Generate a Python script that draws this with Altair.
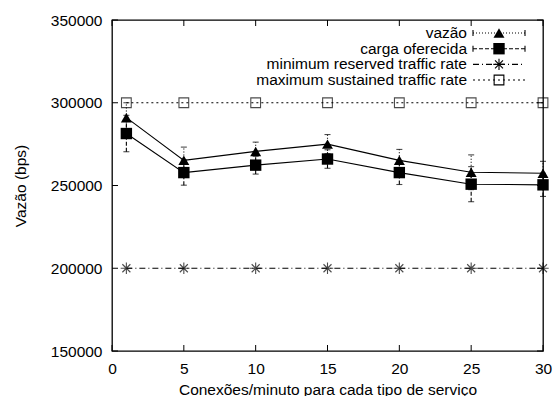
import altair as alt
import pandas as pd

# ---- data ----
x_vals = [1, 5, 10, 15, 20, 25, 30]
vazao = [291000, 265200, 270600, 275000, 265200, 258000, 257400]
vazao_err = [9000, 8000, 5600, 5800, 6600, 10500, 7200]
carga = [281400, 257800, 262300, 266000, 257800, 250800, 250400]
carga_err = [11000, 7600, 5400, 5600, 7200, 10600, 7000]
min_rate = [200000, 200000, 200000, 200000, 200000, 200000, 200000]
max_rate = [300000, 300000, 300000, 300000, 300000, 300000, 300000]

x_ticks = [0, 5, 10, 15, 20, 25, 30]
y_ticks = [150000, 200000, 250000, 300000, 350000]

legend_labels = ["vazão", "carga oferecida", "minimum reserved traffic rate",
                 "maximum sustained traffic rate"]

x_title = "Conexões/minuto para cada tipo de serviço"
y_title = "Vazão (bps)"

# ---- layout / style ----
W, H = 431, 331
FONT = "Liberation Sans"
FS = 15.5
TICK = 6
LW = 1.1

df = pd.DataFrame({
    "x": x_vals, "vazao": vazao, "verr": vazao_err,
    "carga": carga, "cerr": carga_err, "minr": min_rate, "maxr": max_rate,
})
df["v_lo"] = df["vazao"] - df["verr"]
df["v_hi"] = df["vazao"] + df["verr"]
df["c_lo"] = df["carga"] - df["cerr"]
df["c_hi"] = df["carga"] + df["cerr"]

xscale = alt.Scale(domain=[0, 30], nice=False, zero=False)
yscale = alt.Scale(domain=[150000, 350000], nice=False, zero=False)

xaxis = alt.Axis(values=x_ticks, ticks=False, domain=False, grid=False,
                 labelFont=FONT, labelFontSize=FS, labelColor="black",
                 labelPadding=10, labelFlush=False,
                 title=x_title, titleFont=FONT, titleFontSize=FS,
                 titleFontWeight="normal", titleColor="black",
                 titleY=43, titleBaseline="alphabetic")
yaxis = alt.Axis(values=y_ticks, ticks=False, domain=False, grid=False,
                 format="d", labelFont=FONT, labelFontSize=FS,
                 labelColor="black", labelPadding=10, labelFlush=False,
                 title=y_title, titleFont=FONT, titleFontSize=FS,
                 titleFontWeight="normal", titleColor="black",
                 titleX=-92, titleY=H / 2, titleAlign="center",
                 titleBaseline="middle", titleAngle=-90)


def X(f):
    return alt.X(f, type="quantitative", scale=xscale, axis=xaxis, title=x_title)


def Y(f):
    return alt.Y(f, type="quantitative", scale=yscale, axis=yaxis, title=y_title)


base = alt.Chart(df)

cap = "M-1,0L1,0"
star = "M-1,0L1,0M0,-1L0,1M-0.7,-0.7L0.7,0.7M-0.7,0.7L0.7,-0.7"
sq = "M-1,-1L1,-1L1,1L-1,1Z"

layers = []

# reference lines
layers.append(base.mark_line(color="black", strokeWidth=LW, strokeDash=[6, 3, 1, 3]).encode(x=X("x"), y=Y("minr")))
layers.append(base.mark_point(shape=star, size=130, filled=False, color="black", strokeWidth=LW).encode(x=X("x"), y=Y("minr")))
layers.append(base.mark_line(color="black", strokeWidth=LW, strokeDash=[2, 3]).encode(x=X("x"), y=Y("maxr")))
layers.append(base.mark_point(shape=sq, size=95, filled=False, color="black", strokeWidth=LW).encode(x=X("x"), y=Y("maxr")))

# error bars
layers.append(base.mark_rule(color="black", strokeWidth=LW, strokeDash=[1, 2]).encode(x=X("x"), y=Y("v_lo"), y2="v_hi"))
layers.append(base.mark_point(shape=cap, size=36, filled=False, color="black", strokeWidth=LW).encode(x=X("x"), y=Y("v_lo")))
layers.append(base.mark_point(shape=cap, size=36, filled=False, color="black", strokeWidth=LW).encode(x=X("x"), y=Y("v_hi")))
layers.append(base.mark_rule(color="black", strokeWidth=LW, strokeDash=[4, 2]).encode(x=X("x"), y=Y("c_lo"), y2="c_hi"))
layers.append(base.mark_point(shape=cap, size=36, filled=False, color="black", strokeWidth=LW).encode(x=X("x"), y=Y("c_lo")))
layers.append(base.mark_point(shape=cap, size=36, filled=False, color="black", strokeWidth=LW).encode(x=X("x"), y=Y("c_hi")))

# series lines + markers
layers.append(base.mark_line(color="black", strokeWidth=LW).encode(x=X("x"), y=Y("vazao")))
layers.append(base.mark_point(shape="triangle-up", size=120, filled=True, color="black", opacity=1).encode(x=X("x"), y=Y("vazao")))
layers.append(base.mark_line(color="black", strokeWidth=LW).encode(x=X("x"), y=Y("carga")))
layers.append(base.mark_point(shape="square", size=130, filled=True, color="black", opacity=1).encode(x=X("x"), y=Y("carga")))

# inward ticks (gnuplot style, mirrored)
xt = alt.Chart(pd.DataFrame({"t": x_ticks}))
yt = alt.Chart(pd.DataFrame({"t": y_ticks}))
layers.append(xt.mark_rule(color="black", strokeWidth=1).encode(x=X("t"), y=alt.value(H), y2=alt.value(H - TICK)))
layers.append(xt.mark_rule(color="black", strokeWidth=1).encode(x=X("t"), y=alt.value(0), y2=alt.value(TICK)))
layers.append(yt.mark_rule(color="black", strokeWidth=1).encode(y=Y("t"), x=alt.value(0), x2=alt.value(TICK)))
layers.append(yt.mark_rule(color="black", strokeWidth=1).encode(y=Y("t"), x=alt.value(W), x2=alt.value(W - TICK)))

# legend (gnuplot style: label, then sample)
TX, L0, L1, MX = 355, 361, 413, 387
rows = [13, 28.7, 44.4, 60]
styles = [
    dict(dash=[1, 2], caps=True, shape="triangle-up", size=120, filled=True),
    dict(dash=[4, 2], caps=True, shape="square", size=130, filled=True),
    dict(dash=[6, 3, 1, 3], caps=False, shape=star, size=130, filled=False),
    dict(dash=[2, 3], caps=False, shape=sq, size=95, filled=False),
]
for lab, ry, st in zip(legend_labels, rows, styles):
    ld = alt.Chart(pd.DataFrame({"label": [lab]}))
    layers.append(ld.mark_text(align="right", baseline="middle", font=FONT, fontSize=FS, color="black").encode(
        x=alt.value(TX), y=alt.value(ry), text="label:N"))
    layers.append(ld.mark_rule(color="black", strokeWidth=LW, strokeDash=st["dash"]).encode(
        x=alt.value(L0), x2=alt.value(L1), y=alt.value(ry)))
    if st["caps"]:
        for cx in (L0, L1):
            layers.append(ld.mark_rule(color="black", strokeWidth=LW).encode(
                x=alt.value(cx), y=alt.value(ry - 3), y2=alt.value(ry + 3)))
    layers.append(ld.mark_point(shape=st["shape"], size=st["size"], filled=st["filled"], color="black",
                                opacity=1, strokeWidth=LW).encode(x=alt.value(MX), y=alt.value(ry)))

chart = alt.layer(*layers).properties(
    width=W, height=H,
    padding={"left": 112, "top": 20, "right": 10, "bottom": 45},
    autosize=alt.AutoSizeParams(type="none"),
    background="white",
).configure_view(stroke="black", strokeWidth=1.3)

chart.save("out.html", embed_options={"renderer": "svg", "actions": False})
